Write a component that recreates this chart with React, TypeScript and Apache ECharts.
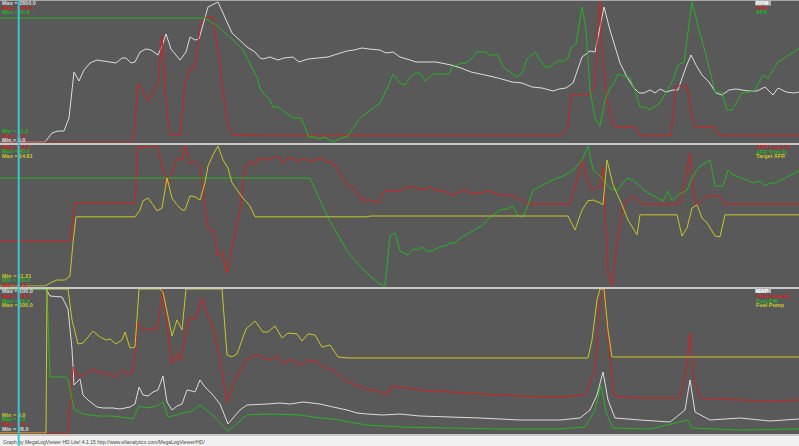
import React, { useEffect, useRef } from "react";
import * as echarts from "echarts";

type P = [number, number];

// ---- Panel 1 ----
const rpm: P[] = [[0,0],[4.5,0],[5.2,180],[5.8,220],[6.4,220],[6.9,480],[7.4,1400],[7.9,1220],[8.4,1440],[9.0,1580],[9.7,1640],[10.3,1620],[11.0,1600],[11.6,1580],[12.2,1680],[12.6,1680],[13.1,1580],[13.5,1600],[14.0,1800],[14.6,1860],[15.1,1840],[15.8,1740],[16.2,1920],[16.6,2160],[17.1,1860],[18.0,1640],[18.6,1800],[19.0,2100],[19.5,2040],[19.9,2060],[20.8,2700],[21.8,2800],[23.2,2180],[24.7,1900],[25.5,1800],[26.0,1680],[26.3,1660],[27.0,1700],[27.8,1640],[28.4,1680],[29.3,1700],[29.9,1600],[30.8,1660],[31.8,1680],[32.8,1700],[33.4,1740],[34.7,1820],[35.4,1840],[36.2,1880],[36.9,1860],[38.0,1840],[38.6,1780],[39.3,1800],[40.0,1700],[41.0,1640],[41.6,1600],[43.6,1600],[45.1,1540],[46.1,1480],[47.1,1400],[48.5,1340],[49.8,1280],[51.2,1200],[52.2,1180],[53.2,1100],[54.2,1080],[55.3,1020],[55.9,1060],[56.6,1080],[57.3,1180],[58.2,1700],[59.0,1820],[59.5,1800],[60.4,2700],[61.0,2240],[62.0,1580],[62.7,1300],[63.4,1080],[63.9,980],[64.4,980],[65.0,1040],[65.5,980],[66.0,1060],[66.6,1000],[67.3,1040],[67.8,1040],[68.6,1500],[69.1,1740],[69.6,1540],[70.2,1340],[70.9,1200],[71.6,980],[72.2,940],[72.9,1040],[73.6,1060],[74.2,1040],[74.9,1020],[75.7,1020],[76.5,1100],[77.3,940],[77.8,1080],[78.6,1000],[79.4,980],[79.9,1000]];
const tps: P[] = [[0,0],[13.3,0],[13.8,42],[14.8,29],[15.8,42],[16.2,76],[16.7,18],[17.1,5],[18.0,5],[18.5,42],[19.0,53],[19.5,53],[20.0,82],[20.4,89],[21.3,89],[22.0,54],[22.7,14],[23.3,5],[26.0,4.5],[56.1,4.5],[56.8,11],[57.1,34],[59.0,34],[59.5,42],[59.9,100],[60.0,100],[60.2,66],[60.7,30],[61.4,11],[63.5,11],[64.0,4.5],[67.1,4.5],[67.6,40],[68.7,40],[69.2,17],[69.6,11],[71.4,11],[72.0,4.5],[79.9,4.5]];
const afr: P[] = [[0,16.26],[20.5,16.26],[21.3,16.06],[22.0,15.86],[22.7,15.58],[23.3,15.38],[24.3,14.98],[25.7,13.9],[26.0,13.46],[26.3,13.26],[26.7,13.1],[27.0,12.98],[27.3,12.7],[27.8,12.7],[29.3,12.26],[30.1,12.26],[30.9,11.5],[31.4,11.5],[31.9,11.42],[32.4,11.5],[33.3,11.3],[34.4,11.5],[34.7,11.5],[36.0,12.26],[38.0,12.86],[39.0,13.7],[39.3,14.02],[40.0,13.66],[40.5,13.58],[41.0,13.9],[41.6,14.06],[42.0,14.06],[42.5,13.74],[43.3,14.02],[44.9,14.02],[45.2,14.3],[46.2,14.46],[46.6,14.46],[47.1,14.62],[47.7,14.9],[48.5,14.9],[49.0,14.78],[49.8,14.78],[50.3,14.3],[51.7,13.9],[52.2,14.06],[52.7,14.62],[53.5,14.9],[54.5,14.3],[54.9,14.3],[55.9,14.58],[56.3,14.5],[56.8,14.66],[57.1,15.06],[57.6,15.22],[58.2,16.7],[58.6,15.78],[59.0,13.38],[59.5,12.26],[60.0,11.94],[60.5,12.98],[61.0,13.46],[61.3,13.58],[61.8,14.02],[63.0,13.86],[63.4,13.46],[64.0,12.7],[64.5,12.7],[65.0,12.58],[66.0,12.86],[67.3,13.78],[67.8,14.38],[68.4,14.5],[69.2,16.9],[69.9,15.78],[70.6,14.78],[71.5,13.3],[72.2,13.3],[72.7,12.58],[73.2,12.58],[74.2,13.26],[74.9,13.3],[75.5,13.38],[76.3,13.98],[76.8,13.86],[77.8,14.5],[79.4,14.9],[79.9,15.06]];

// ---- Panel 2 ----
const afrLearn: P[] = [[0,2.5],[7.0,2.5],[7.5,6.3],[13.5,6.3],[13.8,11.9],[15.7,12.0],[16.3,9.6],[16.7,8.0],[17.7,10.7],[18.2,10.7],[18.5,12.0],[19.0,10.2],[19.5,10.5],[20.0,10.0],[20.5,6.0],[20.8,3.8],[21.3,3.6],[21.8,1.0],[22.2,1.5],[22.7,-0.7],[23.3,2.3],[24.0,5.6],[24.5,9.8],[25.0,10.5],[25.5,10.1],[25.8,10.8],[26.7,10.6],[27.8,11.0],[28.3,10.3],[28.8,10.9],[29.8,10.5],[30.5,10.8],[31.0,10.4],[32.0,10.8],[32.5,10.5],[33.5,10.1],[34.8,8.0],[35.3,7.9],[36.2,6.6],[37.0,6.6],[37.8,6.3],[38.5,7.6],[39.2,7.5],[40.0,7.5],[40.8,7.9],[41.7,7.8],[42.3,7.6],[43.0,7.9],[43.7,7.5],[44.3,7.5],[45.2,7.1],[46.0,7.4],[46.5,7.6],[47.0,7.3],[48.0,7.3],[48.8,7.5],[50.0,7.1],[51.5,7.0],[52.7,6.2],[57.0,6.2],[57.3,7.3],[58.2,10.5],[58.7,8.6],[59.2,7.6],[60.0,8.0],[60.3,10.0],[60.5,5.6],[60.8,-0.7],[61.2,-2.0],[61.7,2.3],[62.2,5.5],[62.7,6.6],[63.3,7.0],[63.8,6.6],[64.2,6.2],[68.0,6.2],[68.5,8.6],[69.0,11.3],[69.5,6.3],[69.8,6.1],[70.5,6.8],[71.0,7.0],[72.0,7.0],[72.5,6.2],[79.9,6.2]];
const afrTrim: P[] = [[0,24],[31.0,24],[32.0,13],[32.8,4],[33.7,-3.5],[34.8,-13.5],[36.0,-20],[37.0,-25],[37.8,-28.5],[38.5,-30],[39.0,-5],[39.5,-3.5],[40.0,-12.5],[40.8,-14.5],[41.3,-11.5],[41.8,-12],[42.2,-10.5],[42.7,-12.5],[43.2,-12.5],[44.0,-10.5],[44.5,-10],[45.0,-8.5],[45.5,-8.5],[46.0,-6],[48.3,0.5],[48.8,3.5],[50.0,8],[50.7,8.5],[51.3,10],[51.8,5],[52.3,4.5],[52.7,9],[53.3,18],[54.7,21.5],[55.7,24],[56.3,25],[57.3,28],[58.2,33],[58.8,40],[59.3,28],[60.0,25],[61.0,19],[61.7,17.5],[62.7,24],[63.3,23],[64.5,17.5],[66.3,12.5],[66.8,17.5],[67.2,12.5],[67.8,15.5],[68.7,18],[69.3,25],[70.0,30],[71.0,33],[71.5,20],[72.3,20],[72.8,28],[73.3,25.5],[74.7,23],[75.3,21.5],[76.0,22.5],[76.5,20],[77.0,21.5],[77.5,21.5],[79.9,27.5]];
const targetAfr: P[] = [[0,11.31],[4.5,11.31],[5.2,11.41],[5.7,11.46],[6.5,11.46],[7.0,11.56],[7.3,12.39],[7.6,13.04],[13.5,13.04],[14.0,13.21],[14.3,13.44],[14.8,13.51],[15.3,13.34],[15.7,13.19],[16.2,13.26],[16.7,14.01],[17.2,13.51],[17.7,13.34],[18.2,13.21],[18.5,13.21],[19.0,13.56],[19.5,13.54],[20.0,13.46],[20.5,13.89],[20.8,14.31],[21.3,14.59],[21.8,14.81],[22.3,14.46],[22.8,14.26],[23.2,13.89],[23.7,13.71],[24.3,13.51],[25.0,13.31],[25.5,13.04],[36.7,13.04],[37.0,13.06],[56.8,13.06],[57.5,12.71],[58.2,13.21],[58.8,13.44],[59.3,13.46],[60.0,13.39],[60.3,13.34],[60.7,14.46],[61.3,13.84],[62.2,13.34],[62.8,12.96],[63.7,12.59],[64.0,13.09],[67.7,13.09],[68.2,12.56],[68.7,12.76],[69.2,13.26],[69.7,13.34],[70.2,13.01],[70.7,12.89],[71.5,12.56],[72.0,12.54],[72.5,13.09],[79.9,13.09]];

// ---- Panel 3 ----
const map: P[] = [[0,100],[4.6,100],[5.0,96.5],[6.2,96],[6.8,90],[7.2,70],[7.4,52],[8.0,55],[8.3,47],[8.8,44.5],[9.7,41],[10.3,40.5],[11.3,40.5],[12.0,40],[13.0,41],[13.5,42.5],[13.9,51],[14.3,47],[14.8,46.5],[15.3,48.5],[15.8,49.5],[16.3,56.5],[16.7,43.5],[17.2,39.5],[17.7,41.5],[18.2,42.5],[18.7,49.5],[19.2,49],[19.5,48.5],[20.0,54.5],[20.5,51],[21.2,47.5],[22.0,42.5],[22.8,32.5],[23.3,35.5],[24.0,39.5],[24.7,42],[26.7,42.5],[28.0,43],[29.0,42.5],[30.3,43.5],[32.0,42.5],[33.3,41],[34.7,39.5],[35.7,38],[36.7,37.5],[38.3,37],[40.0,37.5],[42.0,36.5],[45.0,36],[48.0,35.5],[52.0,34.5],[56.0,34.5],[58.0,35.5],[59.0,39.5],[59.7,47],[60.3,58.5],[60.8,44.5],[61.5,35.5],[64.0,34.5],[67.0,33.5],[68.5,39.5],[69.0,54.5],[69.5,38.5],[71.0,34.5],[74.0,35.5],[77.0,34],[79.9,35]];
const fuelFlow: P[] = [[0,0],[6.8,0],[7.3,6.6],[7.8,5.6],[8.7,6.0],[9.3,6.4],[10.0,6.0],[10.7,5.9],[11.5,5.6],[12.3,6.3],[12.8,5.9],[13.3,6.1],[13.8,11.1],[14.3,10.3],[15.0,10.4],[15.7,10.3],[16.3,14.3],[16.7,10.6],[17.2,6.9],[17.7,7.9],[18.0,7.2],[18.7,10.6],[19.0,11.6],[19.5,11.3],[20.2,13.4],[20.8,11.6],[21.3,10.6],[22.0,7.3],[22.7,3.1],[23.3,4.9],[24.0,6.3],[24.7,7.4],[25.7,7.9],[26.5,7.4],[27.2,7.3],[27.8,7.8],[28.3,6.9],[29.0,7.4],[30.0,6.8],[30.7,7.3],[31.7,7.2],[32.3,6.6],[33.3,6.3],[34.7,5.1],[35.7,4.8],[36.7,4.3],[37.7,4.3],[38.7,3.8],[39.2,4.7],[40.0,4.6],[42.0,4.3],[45.0,4.1],[48.0,3.9],[52.0,3.7],[56.0,3.6],[58.5,3.8],[59.5,6.3],[60.0,13.3],[60.4,14.4],[60.9,8.3],[61.4,3.7],[64.0,3.5],[68.0,3.5],[68.6,6.3],[69.0,10.0],[69.4,5.3],[70.0,3.5],[74.0,3.3],[77.0,3.2],[79.9,3.3]];
const fuelPw: P[] = [[0,16.4],[4.7,16.4],[5.0,7.6],[6.5,7.6],[6.8,7.4],[7.4,4.4],[8.3,3.9],[9.7,3.7],[11.3,3.7],[12.7,3.5],[13.3,3.4],[13.9,4.7],[14.7,4.5],[15.7,4.7],[16.3,5.1],[16.8,3.6],[17.7,3.8],[18.2,4.0],[19.2,4.2],[20.0,4.8],[21.3,3.8],[22.8,2.2],[23.3,2.6],[24.7,3.8],[26.7,3.9],[30.0,3.8],[32.0,3.5],[33.3,3.4],[35.0,3.1],[36.7,2.8],[38.3,2.7],[40.0,2.6],[45.0,2.5],[50.0,2.4],[56.0,2.4],[58.5,2.6],[59.5,4.3],[60.1,6.8],[60.6,4.1],[61.3,2.5],[65.0,2.4],[68.8,3.3],[69.2,2.5],[74.0,2.3],[79.9,2.4]];
const fuelPump: P[] = [[0,0],[4.6,0],[4.7,100],[6.8,100],[7.2,78.5],[7.8,61.8],[8.3,62.5],[9.3,70.8],[10.0,66.7],[10.6,64.6],[11.0,65.3],[11.6,61.8],[12.2,64.6],[12.5,70.1],[13.0,59.0],[13.5,59.7],[13.9,100],[16.0,100],[16.3,97.9],[17.2,67.4],[17.7,78.5],[18.2,71.5],[18.6,100],[22.2,100],[22.7,54.2],[23.2,52.8],[23.7,54.9],[24.6,72.2],[25.5,77.8],[26.3,70.1],[26.8,70.1],[27.5,74.3],[28.2,66.0],[28.8,69.4],[29.7,68.8],[30.2,63.9],[30.8,68.8],[31.5,68.1],[32.2,59.7],[33.0,61.1],[33.8,52.8],[34.8,52.1],[58.8,52.1],[59.2,64.6],[59.7,92.4],[60.0,100],[60.4,100],[60.8,71.5],[61.2,52.8],[79.9,52.8]];

// names, ranges, colors
const panelNames = [["RPM", "TPS", "AFR"], ["AFR Learn %", "AFR Trim %", "Target AFR"], ["MAP", "Fuel flowrate", "Fuel PW", "Fuel Pump"]];
const panelData = [[rpm, tps, afr], [afrLearn, afrTrim, targetAfr], [map, fuelFlow, fuelPw, fuelPump]];
const panelMins = [[0, 0, 11.3], [-2, -30, 11.31], [28, 0, 2, 0]];
const panelMaxs = [[2800, 100, 16.9], [12, 40, 14.81], [100, 14.4, 16.4, 100]];
const panelDecimals = [[1, 1, 1], [1, 1, 2], [1, 1, 1, 1]];
const tEnd = 79.9;
const footerText = "Graph by MegaLogViewer HD Lite! 4.1.15 http://www.efianalytics.com/MegaLogViewer/HD/";

const WHITE = "#dcdcdc";
const RED = "#d22222";
const GREEN = "#24b424";
const YELLOW = "#c8c828";
const panelColors = [[WHITE, RED, GREEN], [RED, GREEN, YELLOW], [WHITE, RED, GREEN, YELLOW]];

// layout
const grids = [
  { top: 2, height: 140 },
  { top: 146, height: 140 },
  { top: 289, height: 144 },
];
const maxOrder = [[0, 1, 2], [0, 1, 2], [0, 1, 2, 3]];
const minOrder = [[2, 1, 0], [2, 1, 0], [3, 2, 1, 0]];
const maxRowY = [[3, 7.5, 12], [146.5, 151, 156], [291, 295.5, 300.5, 305]];
const minRowY = [[131, 135.5, 140], [275.5, 280, 284.5], [414.5, 419, 423.5, 428.5]];
const legRowY = [[3, 7.5, 12], [147, 151.5, 156], [290.5, 295.5, 300.5, 305]];

export default function App() {
  const ref = useRef<HTMLDivElement>(null);
  useEffect(() => {
    document.body.style.margin = "0";
    if (!ref.current) return;
    const chart = echarts.init(ref.current, undefined, { renderer: "svg" });

    const xAxis: any[] = [];
    const yAxis: any[] = [];
    const series: any[] = [];
    const graphic: any[] = [];
    const font = { fontSize: 5.5, fontWeight: "bold", fontFamily: "Liberation Sans, Arial, sans-serif" };

    grids.forEach((g, gi) => {
      xAxis.push({ type: "value", gridIndex: gi, min: 0, max: tEnd, show: false });
      panelData[gi].forEach((d, si) => {
        const yi = yAxis.length;
        yAxis.push({ type: "value", gridIndex: gi, min: panelMins[gi][si], max: panelMaxs[gi][si], show: false });
        series.push({
          type: "line",
          name: panelNames[gi][si],
          xAxisIndex: gi,
          yAxisIndex: yi,
          data: d,
          symbol: "none",
          showSymbol: false,
          silent: true,
          lineStyle: { color: panelColors[gi][si], width: 1 },
          itemStyle: { color: panelColors[gi][si] },
          z: 2 + si,
        });
      });
      maxOrder[gi].forEach((si, r) => {
        graphic.push({
          type: "text", x: 2, y: maxRowY[gi][r], z: 50,
          style: { text: `Max = ${panelMaxs[gi][si].toFixed(panelDecimals[gi][si])}`, fill: panelColors[gi][si], verticalAlign: "middle", textVerticalAlign: "middle", ...font },
        });
      });
      minOrder[gi].forEach((si, r) => {
        graphic.push({
          type: "text", x: 2, y: minRowY[gi][r], z: 50,
          style: { text: `Min = ${panelMins[gi][si].toFixed(panelDecimals[gi][si])}`, fill: panelColors[gi][si], verticalAlign: "middle", textVerticalAlign: "middle", ...font },
        });
      });
      panelNames[gi].forEach((nm, si) => {
        if (gi !== 1 && si === 0) {
          graphic.push({ type: "rect", x: 755, y: legRowY[gi][si] - 2.5, z: 49, shape: { width: 16, height: 5 }, style: { fill: "#b4b4b4" } });
        }
        graphic.push({
          type: "text", x: 756, y: legRowY[gi][si], z: 50,
          style: { text: nm, fill: gi !== 1 && si === 0 ? "#ffffff" : panelColors[gi][si], verticalAlign: "middle", textVerticalAlign: "middle", ...font },
        });
      });
    });

    graphic.push({ type: "rect", x: 0, y: 0, z: 40, shape: { width: 799, height: 1 }, style: { fill: "#a8a8a8" } });
    graphic.push({ type: "rect", x: 0, y: 143, z: 40, shape: { width: 799, height: 2 }, style: { fill: "#c8c8c8" } });
    graphic.push({ type: "rect", x: 0, y: 287, z: 40, shape: { width: 799, height: 2 }, style: { fill: "#c8c8c8" } });
    graphic.push({ type: "rect", x: 0, y: 434, z: 40, shape: { width: 799, height: 2 }, style: { fill: "#c8c8c8" } });
    graphic.push({ type: "rect", x: 0, y: 436, z: 40, shape: { width: 799, height: 10 }, style: { fill: "#f0f0f0" } });
    graphic.push({
      type: "text", x: 3, y: 441.5, z: 50,
      style: { text: footerText, fill: "#4a4a4a", verticalAlign: "middle", textVerticalAlign: "middle", fontSize: 5, fontFamily: "Liberation Sans, Arial, sans-serif" },
    });
    graphic.push({ type: "line", z: 60, shape: { x1: 18.7, y1: 0, x2: 18.7, y2: 446 }, style: { stroke: "#3cc4d4", lineWidth: 2 } });

    chart.setOption({
      animation: false,
      backgroundColor: "#595959",
      grid: grids.map((g) => ({ left: 0, right: 0, top: g.top, height: g.height, containLabel: false })),
      xAxis,
      yAxis,
      series,
      graphic,
    });
    return () => chart.dispose();
  }, []);
  return <div ref={ref} style={{ width: 799, height: 446 }} />;
}
